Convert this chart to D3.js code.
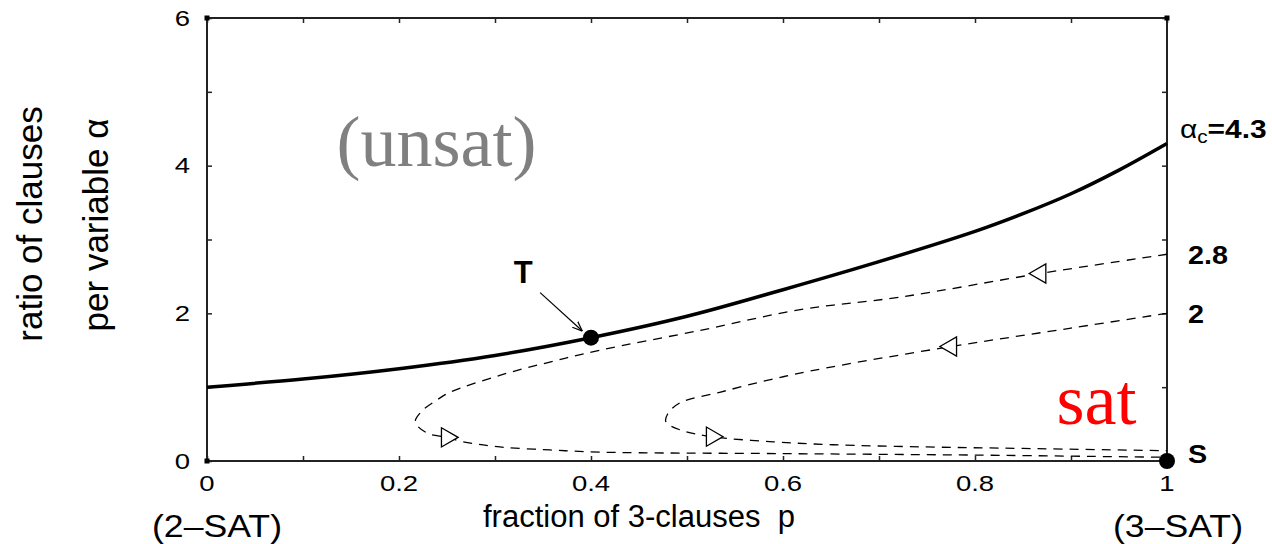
<!DOCTYPE html>
<html>
<head>
<meta charset="utf-8">
<script src="https://d3js.org/d3.v7.min.js"></script>
<style>
  body { margin: 0; background: #fff; }
  svg { display: block; }
  .sans { font-family: "Liberation Sans", Arial, Helvetica, sans-serif; }
  .serif { font-family: "Liberation Serif", "Times New Roman", serif; }
</style>
</head>
<body>
<script>
/*
		 GLOBAL LAYOUT CONSTANTS
*/
var width = 1272;
var height = 544;
var margin = {top: 18, right: 105, bottom: 83, left: 207};

var w = width - margin.left - margin.right;
var h = height - margin.top - margin.bottom;

// the original figure is a little stretched sideways
var stretch = 1.25;

/*
		 DATA
		 p = fraction of 3-clauses, a = ratio of clauses per variable
*/
// threshold line, 2-SAT (p=0, a=1) to 3-SAT (p=1, a=4.3)
var thresholdP = [0, 0.1, 0.2, 0.3, 0.4, 0.5, 0.6, 0.7, 0.8, 0.85, 0.9, 0.95, 1];
var thresholdA = [1.0, 1.11, 1.25, 1.43, 1.67, 1.96, 2.32, 2.70, 3.11, 3.35, 3.62, 3.94, 4.3];

// trajectory starting at a0 = 2.8
var traj28P = [1, 0.868, 0.722, 0.618, 0.514, 0.409, 0.357, 0.305, 0.253, 0.24, 0.225, 0.217, 0.229, 0.25, 0.267, 0.305, 0.357, 0.41, 0.6, 0.8, 1];
var traj28A = [2.8, 2.54, 2.22, 2.05, 1.77, 1.5, 1.34, 1.16, 0.93, 0.83, 0.69, 0.53, 0.38, 0.32, 0.26, 0.19, 0.15, 0.12, 0.1, 0.08, 0.05];

// trajectory starting at a0 = 2
var traj2P = [1, 0.9, 0.775, 0.645, 0.586, 0.534, 0.493, 0.48, 0.478, 0.493, 0.526, 0.59, 0.652, 0.75, 0.85, 1];
var traj2A = [2.0, 1.8, 1.55, 1.26, 1.1, 0.93, 0.79, 0.64, 0.53, 0.42, 0.33, 0.26, 0.22, 0.19, 0.17, 0.14];

// direction markers on the trajectories
var markerP = [0.868, 0.775, 0.25, 0.526];
var markerA = [2.54, 1.55, 0.32, 0.33];
var markerDir = ["left", "left", "right", "right"];

// special points T (tricritical) and S
var pointP = [0.4, 1];
var pointA = [1.67, 0];

// tick values / labels
var xTicks = [0, 0.1, 0.2, 0.3, 0.4, 0.5, 0.6, 0.7, 0.8, 0.9, 1];
var xTickLabels = ["0", "0.2", "0.4", "0.6", "0.8", "1"];
var yTicks = [0, 1, 2, 3, 4, 5, 6];
var yTickLabels = ["0", "2", "4", "6"];

var zip = function(ps, as) { return ps.map(function(p, i) { return {p: p, a: as[i]}; }); };

/*
		 SCALES
*/
var x = d3.scaleLinear().domain([0, 1]).range([0, w]);
var y = d3.scaleLinear().domain([0, 6]).range([h, 0]);

var svg = d3.select("body").append("svg")
    .attr("width", width)
    .attr("height", height);

var chart = svg.append("g")
    .attr("transform", "translate(" + margin.left + "," + margin.top + ")");

/*
		 FRAME + TICKS (inward, on all four sides)
*/
var axisCol = "#222";

chart.append("rect")
    .attr("x", 0).attr("y", 0)
    .attr("width", w).attr("height", h)
    .attr("fill", "none")
    .attr("stroke", axisCol)
    .attr("stroke-width", 2);

var tl = 5;
var tickStyle = function(g) {
    g.select(".domain").remove();
    g.selectAll("line").attr("stroke", axisCol).attr("stroke-width", 1.5);
};
chart.append("g").attr("transform", "translate(0," + h + ")")
    .call(d3.axisBottom(x).tickValues(xTicks).tickSizeInner(-tl).tickSizeOuter(0).tickFormat(""))
    .call(tickStyle);
chart.append("g")
    .call(d3.axisTop(x).tickValues(xTicks).tickSizeInner(-tl).tickSizeOuter(0).tickFormat(""))
    .call(tickStyle);
chart.append("g")
    .call(d3.axisLeft(y).tickValues(yTicks).tickSizeInner(-tl).tickSizeOuter(0).tickFormat(""))
    .call(tickStyle);
chart.append("g").attr("transform", "translate(" + w + ",0)")
    .call(d3.axisRight(y).tickValues(yTicks).tickSizeInner(-tl).tickSizeOuter(0).tickFormat(""))
    .call(tickStyle);

// little square markers at the frame corners
chart.selectAll("rect.corner")
    .data([[0, 0], [1, 6], [0, 6]])
  .enter().append("rect")
    .attr("class", "corner")
    .attr("x", function(d) { return x(d[0]) - 2.5; })
    .attr("y", function(d) { return y(d[1]) - 2.5; })
    .attr("width", 5).attr("height", 5)
    .attr("fill", "#000");

// tick labels
chart.selectAll("text.xlab")
    .data(xTickLabels)
  .enter().append("text")
    .attr("class", "xlab sans")
    .attr("transform", function(d) { return "translate(" + x(+d) + "," + (h + 30) + ") scale(" + stretch + ",1)"; })
    .attr("text-anchor", "middle")
    .style("font-size", "22px")
    .text(function(d) { return d; });

chart.selectAll("text.ylab")
    .data(yTickLabels)
  .enter().append("text")
    .attr("class", "ylab sans")
    .attr("transform", function(d) { return "translate(-17," + y(+d) + ") scale(" + stretch + ",1)"; })
    .attr("dy", "0.35em")
    .attr("text-anchor", "end")
    .style("font-size", "22px")
    .text(function(d) { return d; });

/*
		 CURVES
*/
var line = d3.line()
    .x(function(d) { return x(d.p); })
    .y(function(d) { return y(d.a); })
    .curve(d3.curveCatmullRom.alpha(0.5));

chart.append("path")
    .datum(zip(traj28P, traj28A))
    .attr("d", line)
    .attr("fill", "none")
    .attr("stroke", "#000")
    .attr("stroke-width", 1.3)
    .attr("stroke-dasharray", "9,7");

chart.append("path")
    .datum(zip(traj2P, traj2A))
    .attr("d", line)
    .attr("fill", "none")
    .attr("stroke", "#000")
    .attr("stroke-width", 1.3)
    .attr("stroke-dasharray", "9,7");

chart.append("path")
    .datum(zip(thresholdP, thresholdA))
    .attr("d", line)
    .attr("fill", "none")
    .attr("stroke", "#000")
    .attr("stroke-width", 3.5);

// open triangles showing the direction of motion
var tri = d3.symbol().type(d3.symbolTriangle).size(160);
chart.selectAll("path.marker")
    .data(zip(markerP, markerA))
  .enter().append("path")
    .attr("class", "marker")
    .attr("d", tri)
    .attr("transform", function(d, i) {
        return "translate(" + x(d.p) + "," + y(d.a) + ") rotate(" + (markerDir[i] == "left" ? -90 : 90) + ")";
    })
    .attr("fill", "#fff")
    .attr("stroke", "#000")
    .attr("stroke-width", 1.3);

// T and S points
chart.selectAll("circle.pt")
    .data(zip(pointP, pointA))
  .enter().append("circle")
    .attr("class", "pt")
    .attr("cx", function(d) { return x(d.p); })
    .attr("cy", function(d) { return y(d.a); })
    .attr("r", 8)
    .attr("fill", "#000");

/*
		 ANNOTATIONS
*/
// arrow pointing to T
var arrowFrom = {p: 0.347, a: 2.28};
var arrowTo = {p: 0.391, a: 1.76};
svg.append("defs").append("marker")
    .attr("id", "head")
    .attr("viewBox", "0 0 10 10")
    .attr("refX", 10).attr("refY", 5)
    .attr("markerWidth", 10).attr("markerHeight", 10)
    .attr("markerUnits", "userSpaceOnUse")
    .attr("orient", "auto")
  .append("path")
    .attr("d", "M0,1 L10,5 L0,9")
    .attr("fill", "none")
    .attr("stroke", "#000")
    .attr("stroke-width", 1.2);

chart.append("line")
    .attr("x1", x(arrowFrom.p)).attr("y1", y(arrowFrom.a))
    .attr("x2", x(arrowTo.p)).attr("y2", y(arrowTo.a))
    .attr("stroke", "#000")
    .attr("stroke-width", 1.2)
    .attr("marker-end", "url(#head)");

chart.append("text")
    .attr("class", "sans")
    .attr("x", x(arrowFrom.p) - 17)
    .attr("y", y(arrowFrom.a) - 10)
    .attr("text-anchor", "middle")
    .style("font-size", "31px")
    .style("font-weight", "bold")
    .text("T");

// right-hand labels (slightly widened like the tick labels)
var rs = 1.15;
var ac = chart.append("text")
    .attr("class", "sans")
    .attr("transform", "translate(" + (x(1) + 13) + "," + (y(4.3) - 6) + ") scale(" + rs + ",1)")
    .style("font-size", "26px");
ac.append("tspan").text("α");
ac.append("tspan").attr("dy", 5).style("font-size", "18px").text("c");
ac.append("tspan").attr("dy", -5).style("font-weight", "bold").text("=4.3");

chart.selectAll("text.a0")
    .data(["2.8", "2"])
  .enter().append("text")
    .attr("class", "a0 sans")
    .attr("transform", function(d) { return "translate(" + (x(1) + 21) + "," + y(+d) + ") scale(" + rs + ",1)"; })
    .attr("dy", "0.4em")
    .style("font-size", "25px")
    .style("font-weight", "bold")
    .text(function(d) { return d; });

chart.append("text")
    .attr("class", "sans")
    .attr("transform", "translate(" + (x(1) + 21) + "," + (y(0) + 2) + ") scale(" + rs + ",1)")
    .style("font-size", "25px")
    .style("font-weight", "bold")
    .text("S");

// region names
chart.append("text")
    .attr("class", "serif")
    .attr("x", x(0.135))
    .attr("y", y(4.0))
    .style("font-size", "72px")
    .style("fill", "#808080")
    .text("(unsat)");

chart.append("text")
    .attr("class", "serif")
    .attr("x", x(0.885))
    .attr("y", y(0.5))
    .style("font-size", "72px")
    .style("fill", "#ff0000")
    .text("sat");

// axis titles
chart.append("text")
    .attr("class", "sans")
    .attr("x", 276)
    .attr("y", h + 66)
    .style("font-size", "31px")
    .style("white-space", "pre")
    .text("fraction of 3-clauses  p");

chart.append("text")
    .attr("class", "sans")
    .attr("x", x(0) - 55)
    .attr("y", h + 76)
    .attr("textLength", 130)
    .attr("lengthAdjust", "spacingAndGlyphs")
    .style("font-size", "31px")
    .text("(2–SAT)");

chart.append("text")
    .attr("class", "sans")
    .attr("x", x(1) - 54)
    .attr("y", h + 76)
    .attr("textLength", 130)
    .attr("lengthAdjust", "spacingAndGlyphs")
    .style("font-size", "31px")
    .text("(3–SAT)");

svg.append("text")
    .attr("class", "sans")
    .attr("transform", "translate(42,224) rotate(-90)")
    .attr("text-anchor", "middle")
    .style("font-size", "35px")
    .text("ratio of clauses");

svg.append("text")
    .attr("class", "sans")
    .attr("transform", "translate(108,225) rotate(-90)")
    .attr("text-anchor", "middle")
    .style("font-size", "35px")
    .text("per variable  α");

console.log("done");
</script>
</body>
</html>
